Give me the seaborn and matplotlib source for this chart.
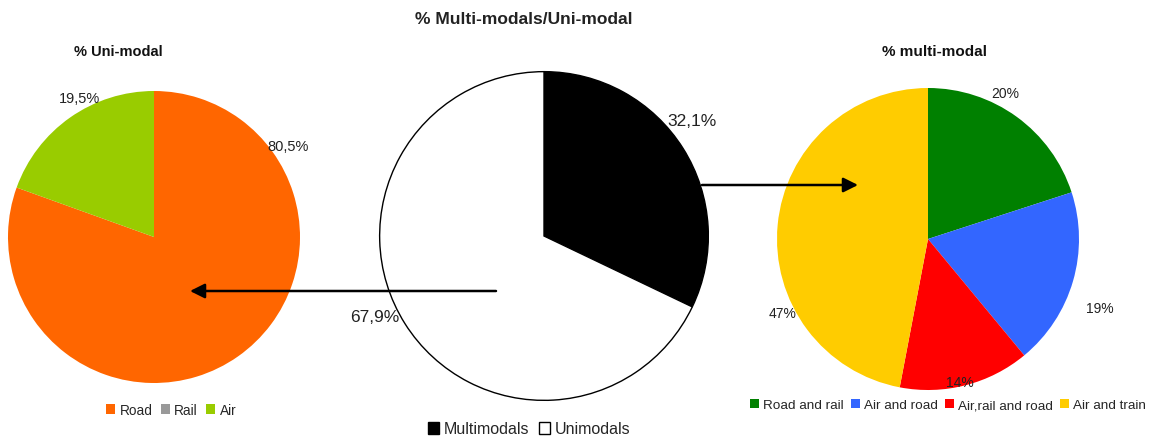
import matplotlib
matplotlib.use("Agg")
import matplotlib.pyplot as plt
import seaborn as sns
from matplotlib.patches import Patch

sns.set_theme(style="white")
plt.rcParams['font.family'] = ['Liberation Sans', 'DejaVu Sans']

# ---- data ----
uni_labels = ["Road", "Rail", "Air"]
uni_values = [80.5, 0.0, 19.5]
uni_colors = ["#FF6600", "#999999", "#99CC00"]
uni_text = ["80,5%", "", "19,5%"]

mid_labels = ["Multimodals", "Unimodals"]
mid_values = [32.1, 67.9]
mid_colors = ["#000000", "#FFFFFF"]
mid_text = ["32,1%", "67,9%"]

multi_labels = ["Road and rail", "Air and road", "Air,rail and road", "Air and train"]
multi_values = [20, 19, 14, 47]
multi_colors = ["#008000", "#3366FF", "#FF0000", "#FFCC00"]
multi_text = ["20%", "19%", "14%", "47%"]

W, H = 1151, 439
fig = plt.figure(figsize=(W / 100, H / 100), dpi=100)
fig.patch.set_facecolor("white")


def pie_axes(cx, cy, r):
    return fig.add_axes([(cx - r) / W, (H - cy - r) / H, 2 * r / W, 2 * r / H])


# left pie
axL = pie_axes(154, 238, 146)
axL.pie(uni_values, colors=uni_colors, startangle=90, counterclock=False,
        wedgeprops=dict(linewidth=0))
axL.set_xlim(-1, 1); axL.set_ylim(-1, 1)
for t, (x, y) in zip(uni_text, [(0.92, 0.62), (0, 0), (-0.51, 0.95)]):
    if t:
        axL.text(x, y, t, ha="center", va="center", fontsize=10.5, color="#222222")

# middle pie
axM = pie_axes(544, 237, 166)
axM.pie(mid_values, colors=mid_colors, startangle=90, counterclock=False,
        wedgeprops=dict(linewidth=1.0, edgecolor="black"))
axM.set_xlim(-1.01, 1.01); axM.set_ylim(-1.01, 1.01)
for t, (x, y) in zip(mid_text, [(0.90, 0.70), (-1.03, -0.49)]):
    axM.text(x, y, t, ha="center", va="center", fontsize=12.5, color="#222222")

# right pie
axR = pie_axes(928, 240, 151)
axR.pie(multi_values, colors=multi_colors, startangle=90, counterclock=False,
        wedgeprops=dict(linewidth=0))
axR.set_xlim(-1, 1); axR.set_ylim(-1, 1)
for t, (x, y) in zip(multi_text, [(0.51, 0.97), (1.14, -0.46), (0.21, -0.95), (-0.96, -0.49)]):
    axR.text(x, y, t, ha="center", va="center", fontsize=10, color="#222222")

# overlay for titles, arrows, legends
ov = fig.add_axes([0, 0, 1, 1], zorder=10)
ov.set_xlim(0, W); ov.set_ylim(H, 0); ov.axis("off")
ov.patch.set_alpha(0)

ov.text(524, 20, "% Multi-modals/Uni-modal", ha="center", va="center",
        fontsize=12.5, fontweight="bold", color="#222222")
ov.text(118, 52, "% Uni-modal", ha="center", va="center",
        fontsize=10.5, fontweight="bold", color="#111111")
ov.text(935, 52, "% multi-modal", ha="center", va="center",
        fontsize=11, fontweight="bold", color="#111111")

arrow = dict(arrowstyle="-|>", color="black", lw=1.8, mutation_scale=22,
             shrinkA=0, shrinkB=0)
ov.annotate("", xy=(190, 292), xytext=(496, 292), arrowprops=arrow)
ov.annotate("", xy=(858, 186), xytext=(702, 186), arrowprops=arrow)

# legends
hL = [Patch(facecolor=c, edgecolor="none") for c in uni_colors]
lgL = ov.legend(hL, uni_labels, loc="center", bbox_to_anchor=(171 / W, 1 - 411 / H),
                bbox_transform=fig.transFigure, ncol=3, frameon=False, fontsize=9.8,
                handlelength=0.7, handleheight=0.7, handletextpad=0.3, columnspacing=0.6)
ov.add_artist(lgL)

hM = [Patch(facecolor=c, edgecolor="black", linewidth=1) for c in mid_colors]
lgM = ov.legend(hM, mid_labels, loc="center", bbox_to_anchor=(529 / W, 1 - 430 / H),
                bbox_transform=fig.transFigure, ncol=2, frameon=False, fontsize=11.5,
                handlelength=0.7, handleheight=0.7, handletextpad=0.3, columnspacing=0.6)
ov.add_artist(lgM)

hR = [Patch(facecolor=c, edgecolor="none") for c in multi_colors]
lgR = ov.legend(hR, multi_labels, loc="center", bbox_to_anchor=(948 / W, 1 - 406 / H),
                bbox_transform=fig.transFigure, ncol=4, frameon=False, fontsize=9.7,
                handlelength=0.7, handleheight=0.7, handletextpad=0.3, columnspacing=0.5)

fig.savefig("out.png", dpi=100, facecolor="white")
